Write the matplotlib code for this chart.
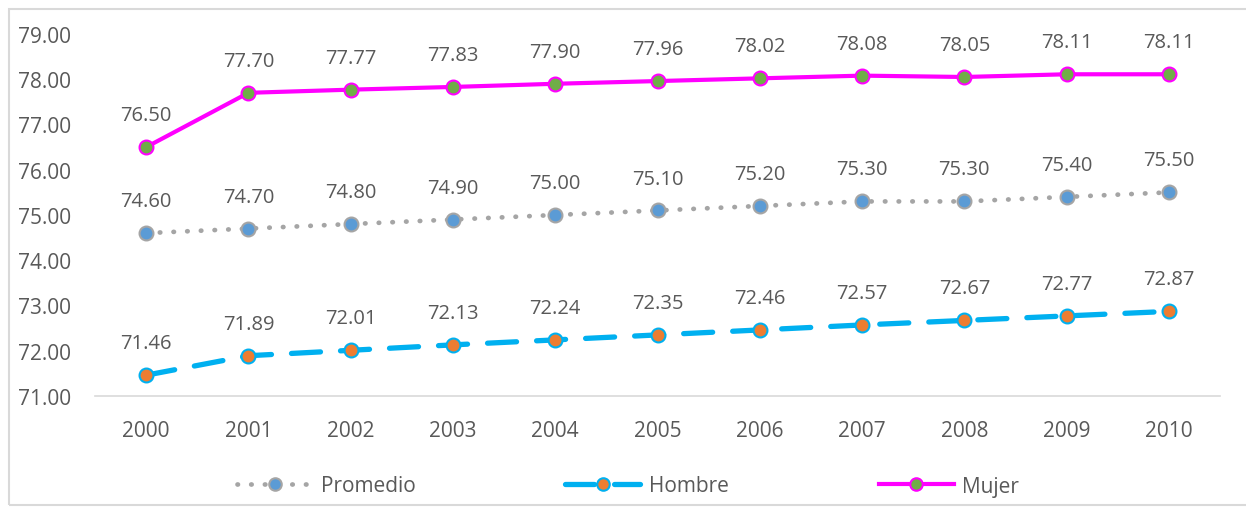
import matplotlib.pyplot as plt
from matplotlib.patches import Rectangle

plt.rcParams['font.family'] = ['Open Sans', 'DejaVu Sans']

anios = ['2000', '2001', '2002', '2003', '2004', '2005', '2006', '2007', '2008', '2009', '2010']
promedio = [74.60, 74.70, 74.80, 74.90, 75.00, 75.10, 75.20, 75.30, 75.30, 75.40, 75.50]
hombre = [71.46, 71.89, 72.01, 72.13, 72.24, 72.35, 72.46, 72.57, 72.67, 72.77, 72.87]
mujer = [76.50, 77.70, 77.77, 77.83, 77.90, 77.96, 78.02, 78.08, 78.05, 78.11, 78.11]

texto = '#595959'

fig = plt.figure(figsize=(12.46, 5.10), dpi=100)
ax = fig.add_axes([95 / 1246, 113 / 510, 1125 / 1246, 362 / 510])

x = list(range(len(anios)))

# Promedio: punteada gris
ax.plot(x, promedio, color='#A5A5A5', lw=3.4, linestyle=(0, (0.1, 2.8)),
        dash_capstyle='round', marker='o', markersize=10,
        markerfacecolor='#5B9BD5', markeredgecolor='#A5A5A5', markeredgewidth=1.5,
        label='Promedio', zorder=3)
# Hombre: discontinua celeste
ax.plot(x, hombre, color='#00B0F0', lw=3.8, linestyle=(0, (5.5, 3.8)),
        dash_capstyle='round', marker='o', markersize=10,
        markerfacecolor='#ED7D31', markeredgecolor='#00B0F0', markeredgewidth=1.5,
        label='Hombre', zorder=3)
# Mujer: continua magenta
ax.plot(x, mujer, color='#FF00FF', lw=3, marker='o', markersize=10,
        markerfacecolor='#70AD47', markeredgecolor='#FF00FF', markeredgewidth=1.5,
        label='Mujer', zorder=3)

for serie in (promedio, hombre, mujer):
    for xi, v in zip(x, serie):
        ax.annotate(f'{v:.2f}', (xi, v), xytext=(0, 23), textcoords='offset points',
                    ha='center', va='center', fontsize=14.5, color=texto)

ax.set_xlim(-0.5, 10.5)
ax.set_ylim(71, 79)
ax.set_xticks(x)
ax.set_xticklabels(anios)
ax.set_yticks([71 + i for i in range(9)])
ax.set_yticklabels([f'{71 + i:.2f}' for i in range(9)])
ax.tick_params(axis='both', length=0, labelsize=15, colors=texto)
ax.tick_params(axis='x', pad=17)
ax.tick_params(axis='y', pad=17)
for s in ('top', 'right', 'left'):
    ax.spines[s].set_visible(False)
ax.spines['bottom'].set_color('#D9D9D9')
ax.spines['bottom'].set_linewidth(1.2)

fig.legend(loc='center', bbox_to_anchor=(628 / 1246, 1 - 487 / 510), ncol=3,
           frameon=False, fontsize=15, handlelength=3.6, columnspacing=7.2,
           handletextpad=0.4, labelcolor=texto, markerscale=0.9)

# marco del gráfico
fig.patches.append(Rectangle((9 / 1246, 4 / 510), 1.2, 496 / 510, transform=fig.transFigure,
                             fill=False, edgecolor='#D9D9D9', lw=1.5))

fig.savefig('out.png', dpi=100)
